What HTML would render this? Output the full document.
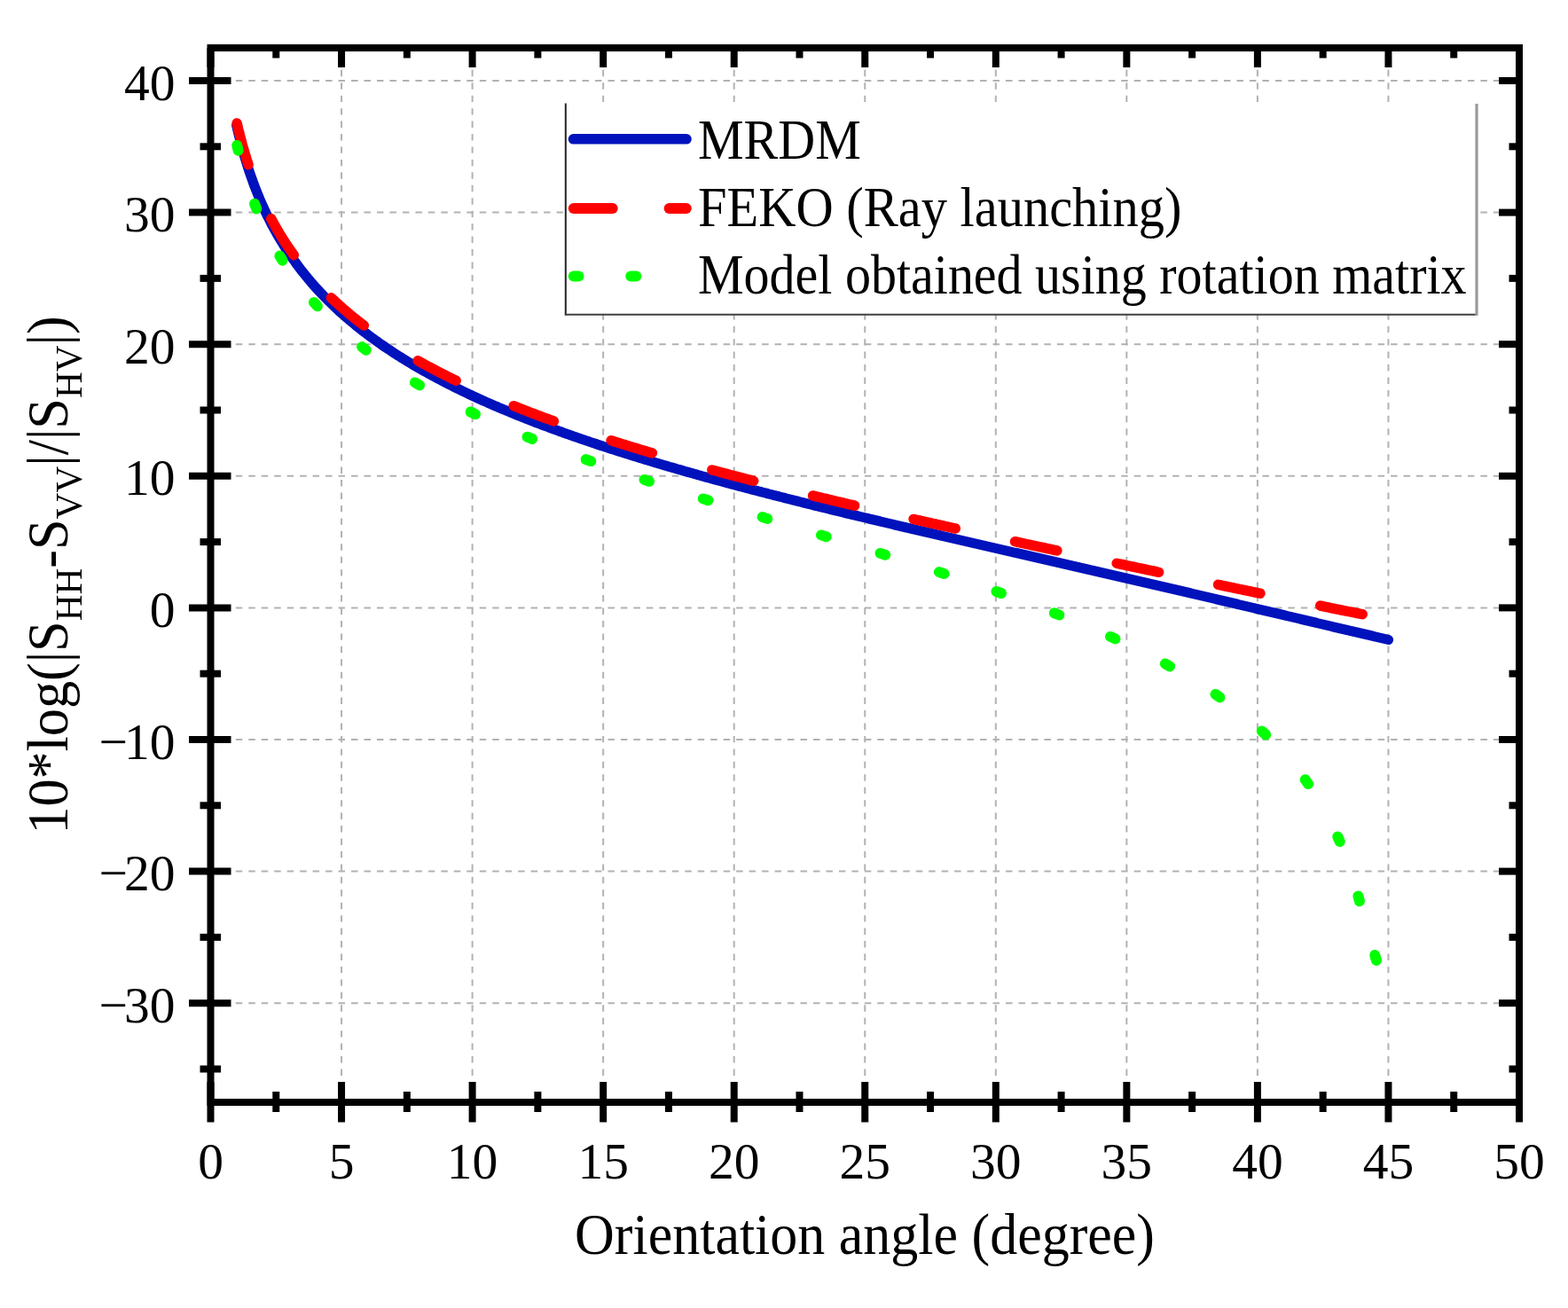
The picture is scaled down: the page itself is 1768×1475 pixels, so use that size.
<!DOCTYPE html>
<html><head><meta charset="utf-8"><title>chart</title>
<style>html,body{margin:0;padding:0;background:#fff;} body{width:1768px;height:1475px;position:relative;overflow:hidden;}</style>
</head><body>
<svg width="1768" height="1475" viewBox="0 0 1768 1475" style="position:absolute;left:0;top:0">
<g stroke="#b2b2b2" stroke-width="2" stroke-dasharray="7.4 7.045" stroke-dashoffset="8.09"><line x1="385.05" y1="58" x2="385.05" y2="1239"/><line x1="532.60" y1="58" x2="532.60" y2="1239"/><line x1="680.15" y1="58" x2="680.15" y2="1239"/><line x1="827.70" y1="58" x2="827.70" y2="1239"/><line x1="975.25" y1="58" x2="975.25" y2="1239"/><line x1="1122.80" y1="58" x2="1122.80" y2="1239"/><line x1="1270.35" y1="58" x2="1270.35" y2="1239"/><line x1="1417.90" y1="58" x2="1417.90" y2="1239"/><line x1="1565.45" y1="58" x2="1565.45" y2="1239"/></g>
<g stroke="#b2b2b2" stroke-width="2" stroke-dasharray="7.5 6.97" stroke-dashoffset="4.64"><line x1="241.5" y1="1131.20" x2="1709" y2="1131.20"/><line x1="241.5" y1="982.60" x2="1709" y2="982.60"/><line x1="241.5" y1="834.00" x2="1709" y2="834.00"/><line x1="241.5" y1="685.40" x2="1709" y2="685.40"/><line x1="241.5" y1="536.80" x2="1709" y2="536.80"/><line x1="241.5" y1="388.20" x2="1709" y2="388.20"/><line x1="241.5" y1="239.60" x2="1709" y2="239.60"/><line x1="241.5" y1="91.00" x2="1709" y2="91.00"/></g>
<rect x="637.8" y="117" width="1027" height="237.5" fill="#fff"/>
<line x1="637.8" y1="116.5" x2="637.8" y2="355.5" stroke="#222" stroke-width="2"/>
<line x1="636.8" y1="354.8" x2="1665" y2="354.8" stroke="#404040" stroke-width="2"/>
<line x1="1665" y1="117" x2="1665" y2="355.8" stroke="#9a9a9a" stroke-width="3.2"/>
<polyline points="266.7,141.4 268.9,150.7 271.1,159.4 273.2,167.5 275.4,175.1 277.6,182.4 279.7,189.2 281.9,195.7 284.1,201.9 286.2,207.9 288.4,213.5 290.6,219.0 292.7,224.2 294.9,229.2 297.1,234.0 299.2,238.7 301.4,243.2 303.6,247.6 305.7,251.8 307.9,255.9 310.1,259.8 312.2,263.7 314.4,267.4 316.6,271.0 318.8,274.6 320.9,278.0 323.1,281.4 325.3,284.7 327.4,287.9 329.6,291.0 331.8,294.0 333.9,297.0 336.1,299.9 338.3,302.8 340.4,305.6 342.6,308.3 344.8,311.0 346.9,313.6 349.1,316.2 351.3,318.8 353.4,321.2 355.6,323.7 357.8,326.1 359.9,328.4 362.1,330.8 364.3,333.0 366.5,335.3 368.6,337.5 370.8,339.6 373.0,341.8 375.1,343.9 377.3,345.9 379.5,348.0 381.6,350.0 383.8,352.0 386.0,353.9 388.1,355.8 390.3,357.7 392.5,359.6 394.6,361.4 396.8,363.2 399.0,365.0 401.1,366.8 403.3,368.6 405.5,370.3 407.6,372.0 409.8,373.7 412.0,375.3 414.2,377.0 416.3,378.6 418.5,380.2 420.7,381.8 422.8,383.4 425.0,384.9 427.2,386.5 429.3,388.0 431.5,389.5 433.7,391.0 435.8,392.5 438.0,393.9 440.2,395.3 442.3,396.8 444.5,398.2 446.7,399.6 448.8,401.0 451.0,402.3 453.2,403.7 455.3,405.0 457.5,406.4 459.7,407.7 461.9,409.0 464.0,410.3 466.2,411.6 468.4,412.9 470.5,414.1 472.7,415.4 474.9,416.6 477.0,417.8 479.2,419.0 481.4,420.3 483.5,421.5 485.7,422.6 487.9,423.8 490.0,425.0 492.2,426.2 494.4,427.3 496.5,428.4 498.7,429.6 500.9,430.7 503.0,431.8 505.2,432.9 507.4,434.0 509.6,435.1 511.7,436.2 513.9,437.3 516.1,438.3 518.2,439.4 520.4,440.4 522.6,441.5 524.7,442.5 526.9,443.6 529.1,444.6 531.2,445.6 533.4,446.6 535.6,447.6 537.7,448.6 539.9,449.6 542.1,450.6 544.2,451.6 546.4,452.5 548.6,453.5 550.7,454.5 552.9,455.4 555.1,456.4 557.2,457.3 559.4,458.2 561.6,459.2 563.8,460.1 565.9,461.0 568.1,461.9 570.3,462.8 572.4,463.7 574.6,464.6 576.8,465.5 578.9,466.4 581.1,467.3 583.3,468.2 585.4,469.0 587.6,469.9 589.8,470.8 591.9,471.6 594.1,472.5 596.3,473.3 598.4,474.2 600.6,475.0 602.8,475.9 604.9,476.7 607.1,477.5 609.3,478.3 611.5,479.2 613.6,480.0 615.8,480.8 618.0,481.6 620.1,482.4 622.3,483.2 624.5,484.0 626.6,484.8 628.8,485.6 631.0,486.4 633.1,487.1 635.3,487.9 637.5,488.7 639.6,489.5 641.8,490.2 644.0,491.0 646.1,491.8 648.3,492.5 650.5,493.3 652.6,494.0 654.8,494.8 657.0,495.5 659.2,496.3 661.3,497.0 663.5,497.7 665.7,498.5 667.8,499.2 670.0,499.9 672.2,500.6 674.3,501.4 676.5,502.1 678.7,502.8 680.8,503.5 683.0,504.2 685.2,504.9 687.3,505.6 689.5,506.3 691.7,507.0 693.8,507.7 696.0,508.4 698.2,509.1 700.3,509.8 702.5,510.5 704.7,511.2 706.9,511.8 709.0,512.5 711.2,513.2 713.4,513.9 715.5,514.5 717.7,515.2 719.9,515.9 722.0,516.5 724.2,517.2 726.4,517.9 728.5,518.5 730.7,519.2 732.9,519.8 735.0,520.5 737.2,521.1 739.4,521.8 741.5,522.4 743.7,523.1 745.9,523.7 748.0,524.4 750.2,525.0 752.4,525.6 754.6,526.3 756.7,526.9 758.9,527.5 761.1,528.1 763.2,528.8 765.4,529.4 767.6,530.0 769.7,530.6 771.9,531.3 774.1,531.9 776.2,532.5 778.4,533.1 780.6,533.7 782.7,534.3 784.9,534.9 787.1,535.6 789.2,536.2 791.4,536.8 793.6,537.4 795.7,538.0 797.9,538.6 800.1,539.2 802.3,539.8 804.4,540.4 806.6,541.0 808.8,541.5 810.9,542.1 813.1,542.7 815.3,543.3 817.4,543.9 819.6,544.5 821.8,545.1 823.9,545.7 826.1,546.2 828.3,546.8 830.4,547.4 832.6,548.0 834.8,548.6 836.9,549.1 839.1,549.7 841.3,550.3 843.4,550.8 845.6,551.4 847.8,552.0 850.0,552.6 852.1,553.1 854.3,553.7 856.5,554.3 858.6,554.8 860.8,555.4 863.0,555.9 865.1,556.5 867.3,557.1 869.5,557.6 871.6,558.2 873.8,558.7 876.0,559.3 878.1,559.8 880.3,560.4 882.5,560.9 884.6,561.5 886.8,562.1 889.0,562.6 891.1,563.1 893.3,563.7 895.5,564.2 897.7,564.8 899.8,565.3 902.0,565.9 904.2,566.4 906.3,567.0 908.5,567.5 910.7,568.0 912.8,568.6 915.0,569.1 917.2,569.7 919.3,570.2 921.5,570.7 923.7,571.3 925.8,571.8 928.0,572.3 930.2,572.9 932.3,573.4 934.5,573.9 936.7,574.5 938.8,575.0 941.0,575.5 943.2,576.1 945.4,576.6 947.5,577.1 949.7,577.6 951.9,578.2 954.0,578.7 956.2,579.2 958.4,579.7 960.5,580.3 962.7,580.8 964.9,581.3 967.0,581.8 969.2,582.4 971.4,582.9 973.5,583.4 975.7,583.9 977.9,584.4 980.0,585.0 982.2,585.5 984.4,586.0 986.5,586.5 988.7,587.0 990.9,587.5 993.1,588.1 995.2,588.6 997.4,589.1 999.6,589.6 1001.7,590.1 1003.9,590.6 1006.1,591.1 1008.2,591.7 1010.4,592.2 1012.6,592.7 1014.7,593.2 1016.9,593.7 1019.1,594.2 1021.2,594.7 1023.4,595.2 1025.6,595.7 1027.7,596.3 1029.9,596.8 1032.1,597.3 1034.2,597.8 1036.4,598.3 1038.6,598.8 1040.8,599.3 1042.9,599.8 1045.1,600.3 1047.3,600.8 1049.4,601.3 1051.6,601.8 1053.8,602.3 1055.9,602.8 1058.1,603.3 1060.3,603.8 1062.4,604.4 1064.6,604.9 1066.8,605.4 1068.9,605.9 1071.1,606.4 1073.3,606.9 1075.4,607.4 1077.6,607.9 1079.8,608.4 1081.9,608.9 1084.1,609.4 1086.3,609.9 1088.5,610.4 1090.6,610.9 1092.8,611.4 1095.0,611.9 1097.1,612.4 1099.3,612.9 1101.5,613.4 1103.6,613.9 1105.8,614.4 1108.0,614.9 1110.1,615.4 1112.3,615.9 1114.5,616.4 1116.6,616.9 1118.8,617.4 1121.0,617.9 1123.1,618.4 1125.3,618.9 1127.5,619.4 1129.6,619.9 1131.8,620.4 1134.0,620.9 1136.2,621.4 1138.3,621.9 1140.5,622.4 1142.7,622.9 1144.8,623.3 1147.0,623.8 1149.2,624.3 1151.3,624.8 1153.5,625.3 1155.7,625.8 1157.8,626.3 1160.0,626.8 1162.2,627.3 1164.3,627.8 1166.5,628.3 1168.7,628.8 1170.8,629.3 1173.0,629.8 1175.2,630.3 1177.3,630.8 1179.5,631.3 1181.7,631.8 1183.9,632.3 1186.0,632.8 1188.2,633.3 1190.4,633.8 1192.5,634.3 1194.7,634.8 1196.9,635.3 1199.0,635.8 1201.2,636.3 1203.4,636.8 1205.5,637.3 1207.7,637.8 1209.9,638.3 1212.0,638.8 1214.2,639.3 1216.4,639.8 1218.5,640.3 1220.7,640.8 1222.9,641.3 1225.0,641.8 1227.2,642.3 1229.4,642.8 1231.6,643.2 1233.7,643.7 1235.9,644.2 1238.1,644.7 1240.2,645.2 1242.4,645.7 1244.6,646.2 1246.7,646.7 1248.9,647.2 1251.1,647.7 1253.2,648.2 1255.4,648.7 1257.6,649.2 1259.7,649.7 1261.9,650.2 1264.1,650.7 1266.2,651.2 1268.4,651.7 1270.6,652.2 1272.7,652.7 1274.9,653.2 1277.1,653.7 1279.3,654.2 1281.4,654.7 1283.6,655.2 1285.8,655.7 1287.9,656.3 1290.1,656.8 1292.3,657.3 1294.4,657.8 1296.6,658.3 1298.8,658.8 1300.9,659.3 1303.1,659.8 1305.3,660.3 1307.4,660.8 1309.6,661.3 1311.8,661.8 1313.9,662.3 1316.1,662.8 1318.3,663.3 1320.4,663.8 1322.6,664.3 1324.8,664.8 1327.0,665.3 1329.1,665.8 1331.3,666.3 1333.5,666.8 1335.6,667.3 1337.8,667.8 1340.0,668.3 1342.1,668.8 1344.3,669.4 1346.5,669.9 1348.6,670.4 1350.8,670.9 1353.0,671.4 1355.1,671.9 1357.3,672.4 1359.5,672.9 1361.6,673.4 1363.8,673.9 1366.0,674.4 1368.1,674.9 1370.3,675.4 1372.5,676.0 1374.7,676.5 1376.8,677.0 1379.0,677.5 1381.2,678.0 1383.3,678.5 1385.5,679.0 1387.7,679.5 1389.8,680.0 1392.0,680.5 1394.2,681.0 1396.3,681.6 1398.5,682.1 1400.7,682.6 1402.8,683.1 1405.0,683.6 1407.2,684.1 1409.3,684.6 1411.5,685.1 1413.7,685.6 1415.8,686.2 1418.0,686.7 1420.2,687.2 1422.4,687.7 1424.5,688.2 1426.7,688.7 1428.9,689.2 1431.0,689.7 1433.2,690.3 1435.4,690.8 1437.5,691.3 1439.7,691.8 1441.9,692.3 1444.0,692.8 1446.2,693.3 1448.4,693.8 1450.5,694.4 1452.7,694.9 1454.9,695.4 1457.0,695.9 1459.2,696.4 1461.4,696.9 1463.5,697.4 1465.7,697.9 1467.9,698.5 1470.1,699.0 1472.2,699.5 1474.4,700.0 1476.6,700.5 1478.7,701.0 1480.9,701.5 1483.1,702.0 1485.2,702.6 1487.4,703.1 1489.6,703.6 1491.7,704.1 1493.9,704.6 1496.1,705.1 1498.2,705.6 1500.4,706.1 1502.6,706.7 1504.7,707.2 1506.9,707.7 1509.1,708.2 1511.2,708.7 1513.4,709.2 1515.6,709.7 1517.8,710.2 1519.9,710.7 1522.1,711.3 1524.3,711.8 1526.4,712.3 1528.6,712.8 1530.8,713.3 1532.9,713.8 1535.1,714.3 1537.3,714.8 1539.4,715.3 1541.6,715.8 1543.8,716.3 1545.9,716.8 1548.1,717.3 1550.3,717.9 1552.4,718.4 1554.6,718.9 1556.8,719.4 1558.9,719.9 1561.1,720.4 1563.3,720.9 1565.5,721.4" fill="none" stroke="#0012bc" stroke-width="11.2" stroke-linecap="round" stroke-linejoin="round"/>
<g fill="none" stroke="#ff0000" stroke-width="11.5" stroke-linecap="round" stroke-linejoin="round"><polyline points="267.1,138.9 267.7,141.2 268.2,143.5 268.7,145.8 269.3,148.0 269.8,150.1 270.4,152.3 270.9,154.4 271.4,156.4 272.0,158.5 272.5,160.5 273.0,162.5 273.6,164.4 274.1,166.3 274.7,168.2 275.2,170.0 275.7,171.9 276.3,173.7 276.8,175.5 277.4,177.2 277.9,179.0 278.4,180.7 279.0,182.4 279.5,184.0 280.1,185.7"/><polyline points="305.7,246.6 306.8,248.6 307.8,250.5 308.9,252.5 310.0,254.4 311.0,256.3 312.1,258.1 313.2,260.0 314.2,261.8 315.3,263.6 316.4,265.3 317.4,267.0 318.5,268.8 319.6,270.4 320.6,272.1 321.7,273.8 322.8,275.4 323.8,277.0 324.9,278.6 326.0,280.1 327.0,281.7 328.1,283.2 329.2,284.7 330.2,286.2 331.3,287.7"/><polyline points="373.4,335.7 374.9,337.2 376.5,338.6 378.0,340.1 379.5,341.5 381.1,342.9 382.6,344.3 384.2,345.7 385.7,347.0 387.2,348.4 388.8,349.7 390.3,351.0 391.9,352.3 393.4,353.6 394.9,354.9 396.5,356.2 398.0,357.4 399.6,358.7 401.1,359.9 402.6,361.1 404.2,362.3 405.7,363.5 407.3,364.7 408.8,365.9 410.4,367.1"/><polyline points="471.2,406.7 473.0,407.7 474.8,408.7 476.6,409.7 478.4,410.7 480.2,411.7 482.0,412.7 483.8,413.7 485.6,414.6 487.4,415.6 489.2,416.5 490.9,417.5 492.7,418.4 494.5,419.3 496.3,420.3 498.1,421.2 499.9,422.1 501.7,423.0 503.5,423.9 505.3,424.8 507.1,425.7 508.8,426.6 510.6,427.5 512.4,428.3 514.2,429.2"/><polyline points="579.1,457.7 581.0,458.4 582.9,459.2 584.7,459.9 586.6,460.7 588.5,461.4 590.4,462.2 592.3,462.9 594.2,463.6 596.1,464.4 598.0,465.1 599.9,465.8 601.8,466.5 603.6,467.2 605.5,468.0 607.4,468.7 609.3,469.4 611.2,470.1 613.1,470.8 615.0,471.5 616.9,472.2 618.8,472.8 620.6,473.5 622.5,474.2 624.4,474.9"/><polyline points="689.1,496.7 691.0,497.3 692.9,498.0 694.9,498.6 696.8,499.2 698.7,499.8 700.7,500.4 702.6,501.0 704.5,501.6 706.4,502.2 708.4,502.8 710.3,503.4 712.2,504.0 714.2,504.6 716.1,505.1 718.0,505.7 720.0,506.3 721.9,506.9 723.8,507.5 725.8,508.1 727.7,508.6 729.6,509.2 731.6,509.8 733.5,510.4 735.4,510.9"/><polyline points="802.8,529.9 804.8,530.5 806.7,531.0 808.7,531.5 810.6,532.0 812.6,532.6 814.6,533.1 816.5,533.6 818.5,534.1 820.4,534.6 822.4,535.2 824.3,535.7 826.3,536.2 828.2,536.7 830.2,537.2 832.1,537.7 834.1,538.2 836.0,538.7 838.0,539.2 840.0,539.8 841.9,540.3 843.9,540.8 845.8,541.3 847.8,541.8 849.7,542.3"/><polyline points="916.5,558.9 918.4,559.4 920.4,559.9 922.4,560.3 924.3,560.8 926.3,561.3 928.3,561.8 930.2,562.2 932.2,562.7 934.2,563.2 936.1,563.6 938.1,564.1 940.1,564.6 942.0,565.0 944.0,565.5 946.0,566.0 947.9,566.4 949.9,566.9 951.9,567.4 953.8,567.8 955.8,568.3 957.8,568.8 959.7,569.2 961.7,569.7 963.7,570.2"/><polyline points="1030.0,585.4 1032.0,585.9 1034.0,586.3 1035.9,586.7 1037.9,587.2 1039.9,587.6 1041.8,588.1 1043.8,588.5 1045.8,589.0 1047.8,589.4 1049.7,589.8 1051.7,590.3 1053.7,590.7 1055.7,591.2 1057.6,591.6 1059.6,592.0 1061.6,592.5 1063.5,592.9 1065.5,593.4 1067.5,593.8 1069.5,594.2 1071.4,594.7 1073.4,595.1 1075.4,595.6 1077.3,596.0"/><polyline points="1144.5,610.7 1146.5,611.1 1148.4,611.5 1150.4,612.0 1152.4,612.4 1154.4,612.8 1156.3,613.3 1158.3,613.7 1160.3,614.1 1162.3,614.5 1164.2,615.0 1166.2,615.4 1168.2,615.8 1170.2,616.2 1172.1,616.7 1174.1,617.1 1176.1,617.5 1178.1,617.9 1180.0,618.4 1182.0,618.8 1184.0,619.2 1186.0,619.6 1187.9,620.1 1189.9,620.5 1191.9,620.9"/><polyline points="1259.2,635.2 1261.1,635.7 1263.1,636.1 1265.1,636.5 1267.1,636.9 1269.0,637.3 1271.0,637.8 1273.0,638.2 1275.0,638.6 1276.9,639.0 1278.9,639.4 1280.9,639.9 1282.9,640.3 1284.9,640.7 1286.8,641.1 1288.8,641.5 1290.8,641.9 1292.8,642.4 1294.7,642.8 1296.7,643.2 1298.7,643.6 1300.7,644.0 1302.7,644.4 1304.6,644.9 1306.6,645.3"/><polyline points="1373.5,659.3 1375.5,659.7 1377.5,660.2 1379.5,660.6 1381.5,661.0 1383.4,661.4 1385.4,661.8 1387.4,662.2 1389.4,662.6 1391.3,663.0 1393.3,663.5 1395.3,663.9 1397.3,664.3 1399.3,664.7 1401.2,665.1 1403.2,665.5 1405.2,665.9 1407.2,666.3 1409.1,666.7 1411.1,667.2 1413.1,667.6 1415.1,668.0 1417.1,668.4 1419.0,668.8 1421.0,669.2"/><polyline points="1488.7,683.1 1490.7,683.5 1492.7,683.9 1494.6,684.3 1496.6,684.7 1498.6,685.1 1500.6,685.6 1502.6,686.0 1504.5,686.4 1506.5,686.8 1508.5,687.2 1510.5,687.6 1512.5,688.0 1514.4,688.4 1516.4,688.8 1518.4,689.2 1520.4,689.6 1522.4,689.9 1524.4,690.3 1526.3,690.7 1528.3,691.1 1530.3,691.5 1532.3,691.9 1534.3,692.3 1536.2,692.7"/></g>
<g stroke="#00ff00" stroke-width="12" stroke-linecap="round"><line x1="267.2" y1="163.9" x2="268.6" y2="169.7"/><line x1="287.0" y1="229.8" x2="289.2" y2="235.4"/><line x1="315.4" y1="288.6" x2="318.5" y2="293.7"/><line x1="353.9" y1="340.9" x2="357.9" y2="345.3"/><line x1="408.1" y1="391.1" x2="412.8" y2="394.8"/><line x1="467.9" y1="431.4" x2="473.1" y2="434.4"/><line x1="530.6" y1="464.5" x2="536.0" y2="467.1"/><line x1="594.5" y1="492.7" x2="600.1" y2="494.9"/><line x1="660.6" y1="518.1" x2="666.3" y2="520.1"/><line x1="726.4" y1="540.9" x2="732.0" y2="542.8"/><line x1="792.8" y1="562.4" x2="798.5" y2="564.2"/><line x1="859.6" y1="583.1" x2="865.3" y2="584.9"/><line x1="926.0" y1="603.4" x2="931.7" y2="605.2"/><line x1="992.5" y1="623.9" x2="998.2" y2="625.7"/><line x1="1058.9" y1="645.1" x2="1064.6" y2="647.0"/><line x1="1123.4" y1="667.0" x2="1129.0" y2="669.0"/><line x1="1188.8" y1="691.3" x2="1194.4" y2="693.5"/><line x1="1252.0" y1="717.9" x2="1257.5" y2="720.4"/><line x1="1313.9" y1="748.5" x2="1319.1" y2="751.4"/><line x1="1370.5" y1="782.9" x2="1375.4" y2="786.4"/><line x1="1422.8" y1="824.4" x2="1427.2" y2="828.5"/><line x1="1471.7" y1="879.2" x2="1475.1" y2="884.1"/><line x1="1508.3" y1="943.5" x2="1510.7" y2="949.0"/><line x1="1531.4" y1="1010.5" x2="1532.9" y2="1016.3"/><line x1="1550.2" y1="1077.1" x2="1552.0" y2="1082.9"/></g>
<line x1="646.5" y1="156.8" x2="774" y2="156.8" stroke="#0012bc" stroke-width="11.6" stroke-linecap="round"/>
<g stroke="#ff0000" stroke-width="12" stroke-linecap="round"><line x1="646.8" y1="235.1" x2="690.7" y2="235.1"/><line x1="754.6" y1="235.1" x2="773.8" y2="235.1"/></g>
<g stroke="#00ff00" stroke-width="12" stroke-linecap="round"><line x1="646.8" y1="311.4" x2="652.5" y2="311.4"/><line x1="711.3" y1="311.4" x2="717.3" y2="311.4"/></g>
<rect x="237.5" y="54" width="1475.5" height="1189" fill="none" stroke="#000" stroke-width="8"/>
<g stroke="#000" stroke-width="8"><line x1="237.50" y1="1220" x2="237.50" y2="1265.5"/><line x1="237.50" y1="54" x2="237.50" y2="76"/><line x1="385.05" y1="1220" x2="385.05" y2="1265.5"/><line x1="385.05" y1="54" x2="385.05" y2="76"/><line x1="532.60" y1="1220" x2="532.60" y2="1265.5"/><line x1="532.60" y1="54" x2="532.60" y2="76"/><line x1="680.15" y1="1220" x2="680.15" y2="1265.5"/><line x1="680.15" y1="54" x2="680.15" y2="76"/><line x1="827.70" y1="1220" x2="827.70" y2="1265.5"/><line x1="827.70" y1="54" x2="827.70" y2="76"/><line x1="975.25" y1="1220" x2="975.25" y2="1265.5"/><line x1="975.25" y1="54" x2="975.25" y2="76"/><line x1="1122.80" y1="1220" x2="1122.80" y2="1265.5"/><line x1="1122.80" y1="54" x2="1122.80" y2="76"/><line x1="1270.35" y1="1220" x2="1270.35" y2="1265.5"/><line x1="1270.35" y1="54" x2="1270.35" y2="76"/><line x1="1417.90" y1="1220" x2="1417.90" y2="1265.5"/><line x1="1417.90" y1="54" x2="1417.90" y2="76"/><line x1="1565.45" y1="1220" x2="1565.45" y2="1265.5"/><line x1="1565.45" y1="54" x2="1565.45" y2="76"/><line x1="1713.00" y1="1220" x2="1713.00" y2="1265.5"/><line x1="1713.00" y1="54" x2="1713.00" y2="76"/><line x1="311.27" y1="1231" x2="311.27" y2="1254"/><line x1="311.27" y1="54" x2="311.27" y2="65.5"/><line x1="458.83" y1="1231" x2="458.83" y2="1254"/><line x1="458.83" y1="54" x2="458.83" y2="65.5"/><line x1="606.38" y1="1231" x2="606.38" y2="1254"/><line x1="606.38" y1="54" x2="606.38" y2="65.5"/><line x1="753.93" y1="1231" x2="753.93" y2="1254"/><line x1="753.93" y1="54" x2="753.93" y2="65.5"/><line x1="901.48" y1="1231" x2="901.48" y2="1254"/><line x1="901.48" y1="54" x2="901.48" y2="65.5"/><line x1="1049.03" y1="1231" x2="1049.03" y2="1254"/><line x1="1049.03" y1="54" x2="1049.03" y2="65.5"/><line x1="1196.58" y1="1231" x2="1196.58" y2="1254"/><line x1="1196.58" y1="54" x2="1196.58" y2="65.5"/><line x1="1344.12" y1="1231" x2="1344.12" y2="1254"/><line x1="1344.12" y1="54" x2="1344.12" y2="65.5"/><line x1="1491.67" y1="1231" x2="1491.67" y2="1254"/><line x1="1491.67" y1="54" x2="1491.67" y2="65.5"/><line x1="1639.23" y1="1231" x2="1639.23" y2="1254"/><line x1="1639.23" y1="54" x2="1639.23" y2="65.5"/><line x1="213" y1="1131.20" x2="260.5" y2="1131.20"/><line x1="1690" y1="1131.20" x2="1713" y2="1131.20"/><line x1="213" y1="982.60" x2="260.5" y2="982.60"/><line x1="1690" y1="982.60" x2="1713" y2="982.60"/><line x1="213" y1="834.00" x2="260.5" y2="834.00"/><line x1="1690" y1="834.00" x2="1713" y2="834.00"/><line x1="213" y1="685.40" x2="260.5" y2="685.40"/><line x1="1690" y1="685.40" x2="1713" y2="685.40"/><line x1="213" y1="536.80" x2="260.5" y2="536.80"/><line x1="1690" y1="536.80" x2="1713" y2="536.80"/><line x1="213" y1="388.20" x2="260.5" y2="388.20"/><line x1="1690" y1="388.20" x2="1713" y2="388.20"/><line x1="213" y1="239.60" x2="260.5" y2="239.60"/><line x1="1690" y1="239.60" x2="1713" y2="239.60"/><line x1="213" y1="91.00" x2="260.5" y2="91.00"/><line x1="1690" y1="91.00" x2="1713" y2="91.00"/><line x1="225.5" y1="1205.50" x2="249" y2="1205.50"/><line x1="1701.5" y1="1205.50" x2="1713" y2="1205.50"/><line x1="225.5" y1="1056.90" x2="249" y2="1056.90"/><line x1="1701.5" y1="1056.90" x2="1713" y2="1056.90"/><line x1="225.5" y1="908.30" x2="249" y2="908.30"/><line x1="1701.5" y1="908.30" x2="1713" y2="908.30"/><line x1="225.5" y1="759.70" x2="249" y2="759.70"/><line x1="1701.5" y1="759.70" x2="1713" y2="759.70"/><line x1="225.5" y1="611.10" x2="249" y2="611.10"/><line x1="1701.5" y1="611.10" x2="1713" y2="611.10"/><line x1="225.5" y1="462.50" x2="249" y2="462.50"/><line x1="1701.5" y1="462.50" x2="1713" y2="462.50"/><line x1="225.5" y1="313.90" x2="249" y2="313.90"/><line x1="1701.5" y1="313.90" x2="1713" y2="313.90"/><line x1="225.5" y1="165.30" x2="249" y2="165.30"/><line x1="1701.5" y1="165.30" x2="1713" y2="165.30"/></g>
<g font-family="'Liberation Serif', 'Times New Roman', serif" font-size="57.5" fill="#000"><text x="197.5" y="1152.7" text-anchor="end"><tspan letter-spacing="-4">−</tspan>30</text><text x="197.5" y="1004.1" text-anchor="end"><tspan letter-spacing="-4">−</tspan>20</text><text x="197.5" y="855.5" text-anchor="end"><tspan letter-spacing="-4">−</tspan>10</text><text x="197.5" y="706.9" text-anchor="end">0</text><text x="197.5" y="558.3" text-anchor="end">10</text><text x="197.5" y="409.7" text-anchor="end">20</text><text x="197.5" y="261.1" text-anchor="end">30</text><text x="197.5" y="112.5" text-anchor="end">40</text><text x="237.50" y="1329" text-anchor="middle">0</text><text x="385.05" y="1329" text-anchor="middle">5</text><text x="532.60" y="1329" text-anchor="middle">10</text><text x="680.15" y="1329" text-anchor="middle">15</text><text x="827.70" y="1329" text-anchor="middle">20</text><text x="975.25" y="1329" text-anchor="middle">25</text><text x="1122.80" y="1329" text-anchor="middle">30</text><text x="1270.35" y="1329" text-anchor="middle">35</text><text x="1417.90" y="1329" text-anchor="middle">40</text><text x="1565.45" y="1329" text-anchor="middle">45</text><text x="1713.00" y="1329" text-anchor="middle">50</text></g>
<text font-family="'Liberation Serif', 'Times New Roman', serif" font-size="62" transform="translate(975,1414) scale(1,1.05)" text-anchor="middle">Orientation angle (degree)</text>
<g font-family="'Liberation Serif', 'Times New Roman', serif" font-size="58"><text transform="translate(787,179.2) scale(1,1.08)">MRDM</text><text transform="translate(787,255) scale(1.008,1.08)">FEKO (Ray launching)</text><text transform="translate(787,331) scale(1,1.08)">Model obtained using rotation matrix</text></g>
<text font-family="'Liberation Serif', 'Times New Roman', serif" font-size="65" transform="translate(75.5,940.6) rotate(-90) scale(0.956,1)">10*log(|S<tspan font-size="43.2" dy="16">HH</tspan><tspan dy="-16">-S</tspan><tspan font-size="43.2" dy="16">VV</tspan><tspan dy="-16">|/|S</tspan><tspan font-size="43.2" dy="16">HV</tspan><tspan dy="-16">|)</tspan></text>
</svg>
</body></html>
